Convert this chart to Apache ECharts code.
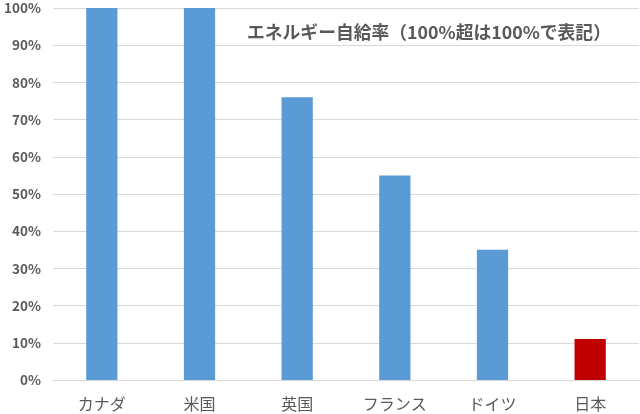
<!DOCTYPE html>
<html>
<head>
<meta charset="utf-8">
<script src="https://cdn.jsdelivr.net/npm/echarts@6/dist/echarts.min.js"></script>
<style>
  html, body { margin: 0; padding: 0; background: #fff; }
  #chart { width: 640px; height: 414px; }
</style>
</head>
<body>
<div id="chart"></div>
<script>
// 国名とエネルギー自給率（%）
var countries = ['カナダ', '米国', '英国', 'フランス', 'ドイツ', '日本'];
var selfSufficiency = [100, 100, 76, 55, 35, 11];
var highlightCountry = '日本';
var chartTitle = 'エネルギー自給率（100%超は100%で表記）';

var font = '"Noto Sans CJK JP", "Noto Sans", sans-serif';

var myChart = echarts.init(document.getElementById('chart'));

var option = {
    animation: false,
    title: {
        text: chartTitle,
        left: 242,
        top: 18,
        textStyle: {
            fontFamily: font,
            fontSize: 17.8,
            fontWeight: 'bold',
            color: '#595959'
        }
    },
    grid: {
        left: 53,
        right: 1,
        top: 8,
        bottom: 34
    },
    xAxis: {
        type: 'category',
        data: countries,
        axisLine: { show: true, lineStyle: { color: '#d9d9d9' } },
        axisTick: { show: false },
        axisLabel: {
            margin: 16,
            fontFamily: font,
            fontSize: 16,
            color: '#595959'
        }
    },
    yAxis: {
        type: 'value',
        min: 0,
        max: 100,
        interval: 10,
        axisLine: { show: false },
        axisTick: { show: false },
        splitLine: { lineStyle: { color: '#d9d9d9' } },
        axisLabel: {
            margin: 12,
            fontFamily: font,
            fontSize: 13.5,
            fontWeight: 'bold',
            color: '#595959',
            formatter: '{value}%'
        }
    },
    series: [
        {
            type: 'bar',
            barWidth: '32%',
            data: selfSufficiency.map(function (v, i) {
                return {
                    value: v,
                    itemStyle: { color: countries[i] === highlightCountry ? '#c00000' : '#5b9bd5' }
                };
            })
        }
    ]
};

myChart.setOption(option);
</script>
</body>
</html>
